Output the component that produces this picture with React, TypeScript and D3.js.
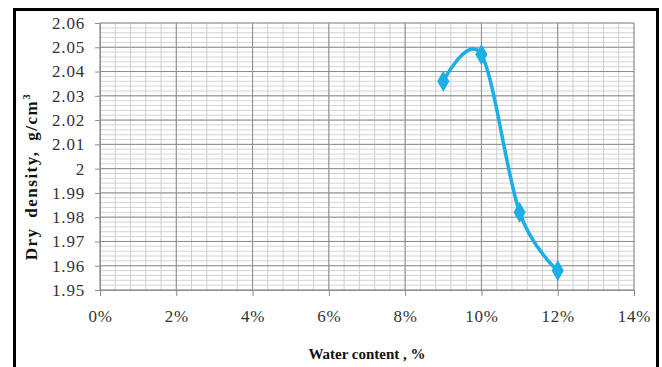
import React, { useRef, useEffect } from "react";
import * as d3 from "d3";

const waterContent = [0.09, 0.1, 0.11, 0.12];
const dryDensity = [2.036, 2.047, 1.982, 1.958];
const xTicks = [0, 0.02, 0.04, 0.06, 0.08, 0.1, 0.12, 0.14];
const yTicks = [1.95, 1.96, 1.97, 1.98, 1.99, 2.0, 2.01, 2.02, 2.03, 2.04, 2.05, 2.06];

const width = 662;
const height = 367;
const margin = { left: 100, top: 23, right: 28, bottom: 77 };
const serif = "Liberation Serif, Times New Roman, Tinos, DejaVu Serif, serif";

const App = () => {
  const svgRef = useRef<SVGSVGElement>(null);

  useEffect(() => {
    const svg = d3.select(svgRef.current);
    svg.selectAll("*").remove();

    const x = d3
      .scaleLinear()
      .domain([0, 0.14])
      .range([margin.left, width - margin.right]);
    const y = d3
      .scaleLinear()
      .domain([1.95, 2.06])
      .range([height - margin.bottom, margin.top]);

    svg
      .append("rect")
      .attr("width", width)
      .attr("height", height)
      .attr("fill", "#fff");

    // frame
    svg
      .append("rect")
      .attr("x", 14.5)
      .attr("y", 9.5)
      .attr("width", 643)
      .attr("height", 370)
      .attr("fill", "none")
      .attr("stroke", "#000")
      .attr("stroke-width", 3);

    // minor grid
    const grid = svg.append("g");
    const xMinor = d3.range(0, 36).map((i) => i * 0.004);
    const yMinor = d3.range(0, 56).map((i) => 1.95 + i * 0.002);
    grid
      .selectAll(".hminor")
      .data(yMinor)
      .join("line")
      .attr("x1", x(0))
      .attr("x2", x(0.14))
      .attr("y1", (d) => y(d))
      .attr("y2", (d) => y(d))
      .attr("stroke", "#d4d4d4")
      .attr("stroke-width", 1);
    grid
      .selectAll(".vminor")
      .data(xMinor)
      .join("line")
      .attr("x1", (d) => x(d))
      .attr("x2", (d) => x(d))
      .attr("y1", y(1.95))
      .attr("y2", y(2.06))
      .attr("stroke", "#cfcfcf")
      .attr("stroke-width", 1);
    // major grid
    grid
      .selectAll(".hmajor")
      .data(yTicks)
      .join("line")
      .attr("x1", x(0))
      .attr("x2", x(0.14))
      .attr("y1", (d) => y(d))
      .attr("y2", (d) => y(d))
      .attr("stroke", "#8c8c8c")
      .attr("stroke-width", 1);
    grid
      .selectAll(".vmajor")
      .data(xTicks)
      .join("line")
      .attr("x1", (d) => x(d))
      .attr("x2", (d) => x(d))
      .attr("y1", y(1.95))
      .attr("y2", y(2.06))
      .attr("stroke", "#8c8c8c")
      .attr("stroke-width", 1);

    // axes
    const xAxis = d3
      .axisBottom(x)
      .tickValues(xTicks)
      .tickSize(6)
      .tickPadding(14)
      .tickFormat((d) => `${Math.round(+d * 100)}%`);
    const gx = svg
      .append("g")
      .attr("transform", `translate(0,${y(1.95)})`)
      .call(xAxis)
      .attr("font-family", serif)
      .attr("font-size", 17);
    gx.select(".domain").attr("stroke", "#8c8c8c");
    gx.selectAll("line").attr("stroke", "#8c8c8c");
    gx.selectAll("text").attr("fill", "#333").attr("letter-spacing", 0.8);

    const yAxis = d3
      .axisLeft(y)
      .tickValues(yTicks)
      .tickSize(5)
      .tickPadding(10)
      .tickFormat((d) => (+d === 2 ? "2" : d3.format(".2f")(+d)));
    const gy = svg
      .append("g")
      .attr("transform", `translate(${x(0)},0)`)
      .call(yAxis)
      .attr("font-family", serif)
      .attr("font-size", 17);
    gy.select(".domain").attr("stroke", "#8c8c8c");
    gy.selectAll("line").attr("stroke", "#8c8c8c");
    gy.selectAll("text").attr("fill", "#333").attr("letter-spacing", 0.8);

    // series
    const points = waterContent.map((w, i) => [w, dryDensity[i]] as [number, number]);
    const line = d3
      .line<[number, number]>()
      .x((d) => x(d[0]))
      .y((d) => y(d[1]))
      .curve(d3.curveCardinal.tension(0));
    svg
      .append("path")
      .datum(points)
      .attr("d", line)
      .attr("fill", "none")
      .attr("stroke", "#1cafe6")
      .attr("stroke-width", 3.5);
    svg
      .selectAll(".marker")
      .data(points)
      .join("path")
      .attr("d", d3.symbol(d3.symbolDiamond, 130))
      .attr("transform", (d) => `translate(${x(d[0])},${y(d[1])})`)
      .attr("fill", "#1cafe6");

    // titles
    const yt = svg
      .append("text")
      .attr("transform", `translate(37,${(y(1.95) + y(2.06)) / 2 + 20}) rotate(-90)`)
      .attr("text-anchor", "middle")
      .attr("font-family", serif)
      .attr("font-size", 17)
      .attr("font-weight", "bold")
      .attr("letter-spacing", 1.5)
      .attr("word-spacing", 4)
      .attr("fill", "#111");
    yt.append("tspan").text("Dry density, g/cm");
    yt.append("tspan").attr("dy", -7).attr("font-size", 11).text("3");

    svg
      .append("text")
      .attr("x", (x(0) + x(0.14)) / 2)
      .attr("y", 359)
      .attr("text-anchor", "middle")
      .attr("font-family", serif)
      .attr("font-size", 15)
      .attr("font-weight", "bold")
      .attr("fill", "#111")
      .text("Water content , %");
  }, []);

  return (
    <div style={{ position: "absolute", left: 0, top: 0 }}>
      <svg ref={svgRef} width={width} height={height} style={{ display: "block" }} />
    </div>
  );
};

export default App;
